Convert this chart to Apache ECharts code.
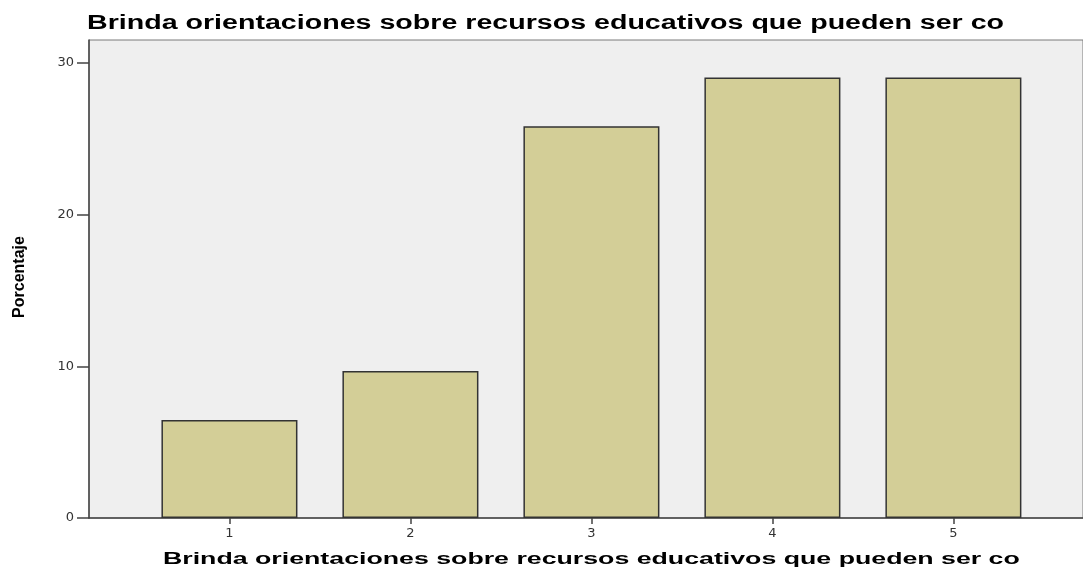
<!DOCTYPE html>
<html>
<head>
<meta charset="utf-8">
<script src="https://cdn.jsdelivr.net/npm/echarts@6/dist/echarts.min.js"></script>
<style>
  html, body { margin: 0; padding: 0; background: #fff; }
  #chart { width: 1083px; height: 571px; }
</style>
</head>
<body>
<div id="chart"></div>
<script>
// categorias (posicion en el eje) y porcentajes
const categories = [1, 2, 3, 4, 5];
const percentages = [6.45, 9.68, 25.81, 29.03, 29.03];
const yTicks = [0, 10, 20, 30];
const titleText = 'Brinda orientaciones sobre recursos educativos que pueden ser co';

const chart = echarts.init(document.getElementById('chart'));

const option = {
  backgroundColor: '#ffffff',
  animation: false,
  grid: {
    left: 89,
    right: -2,
    top: 40,
    bottom: 53,
    show: true,
    backgroundColor: '#efefef',
    borderColor: '#7a7a7a',
    borderWidth: 1
  },
  xAxis: {
    type: 'value',
    min: 0.224,
    max: 5.716,
    splitLine: { show: false },
    axisLine: { lineStyle: { color: '#444', width: 1.5 } },
    axisTick: {
      show: true,
      length: 6,
      customValues: categories,
      lineStyle: { color: '#444', width: 1.5 }
    },
    axisLabel: {
      customValues: categories,
      margin: 9,
      color: '#333',
      fontFamily: 'DejaVu Sans',
      fontSize: 13
    }
  },
  yAxis: {
    type: 'value',
    min: 0,
    max: 31.5,
    splitLine: { show: false },
    axisLine: { show: true, lineStyle: { color: '#444', width: 1.5 } },
    axisTick: {
      show: true,
      length: 12,
      customValues: yTicks,
      lineStyle: { color: '#444', width: 1.5 }
    },
    axisLabel: {
      customValues: yTicks,
      margin: 15,
      color: '#333',
      fontFamily: 'DejaVu Sans',
      fontSize: 13
    }
  },
  graphic: [
    {
      type: 'text',
      x: 87,
      y: 23,
      scaleX: 1.43,
      style: {
        text: titleText,
        font: 'bold 20px "Liberation Sans", Arial, sans-serif',
        fill: '#000',
        textAlign: 'left',
        textVerticalAlign: 'middle'
      }
    },
    {
      type: 'text',
      x: 163,
      y: 560,
      scaleX: 1.67,
      style: {
        text: titleText,
        font: 'bold 16px "Liberation Sans", Arial, sans-serif',
        fill: '#000',
        textAlign: 'left',
        textVerticalAlign: 'middle'
      }
    },
    {
      type: 'text',
      x: 20,
      y: 277,
      rotation: Math.PI / 2,
      style: {
        text: 'Porcentaje',
        font: 'bold 16px "Liberation Sans", Arial, sans-serif',
        fill: '#000',
        textAlign: 'center',
        textVerticalAlign: 'middle'
      }
    }
  ],
  series: [
    {
      type: 'bar',
      barWidth: 136,
      data: categories.map((c, i) => [c, percentages[i]]),
      itemStyle: {
        color: '#d3ce97',
        borderColor: '#333',
        borderWidth: 1.5
      }
    }
  ]
};

chart.setOption(option);
</script>
</body>
</html>
